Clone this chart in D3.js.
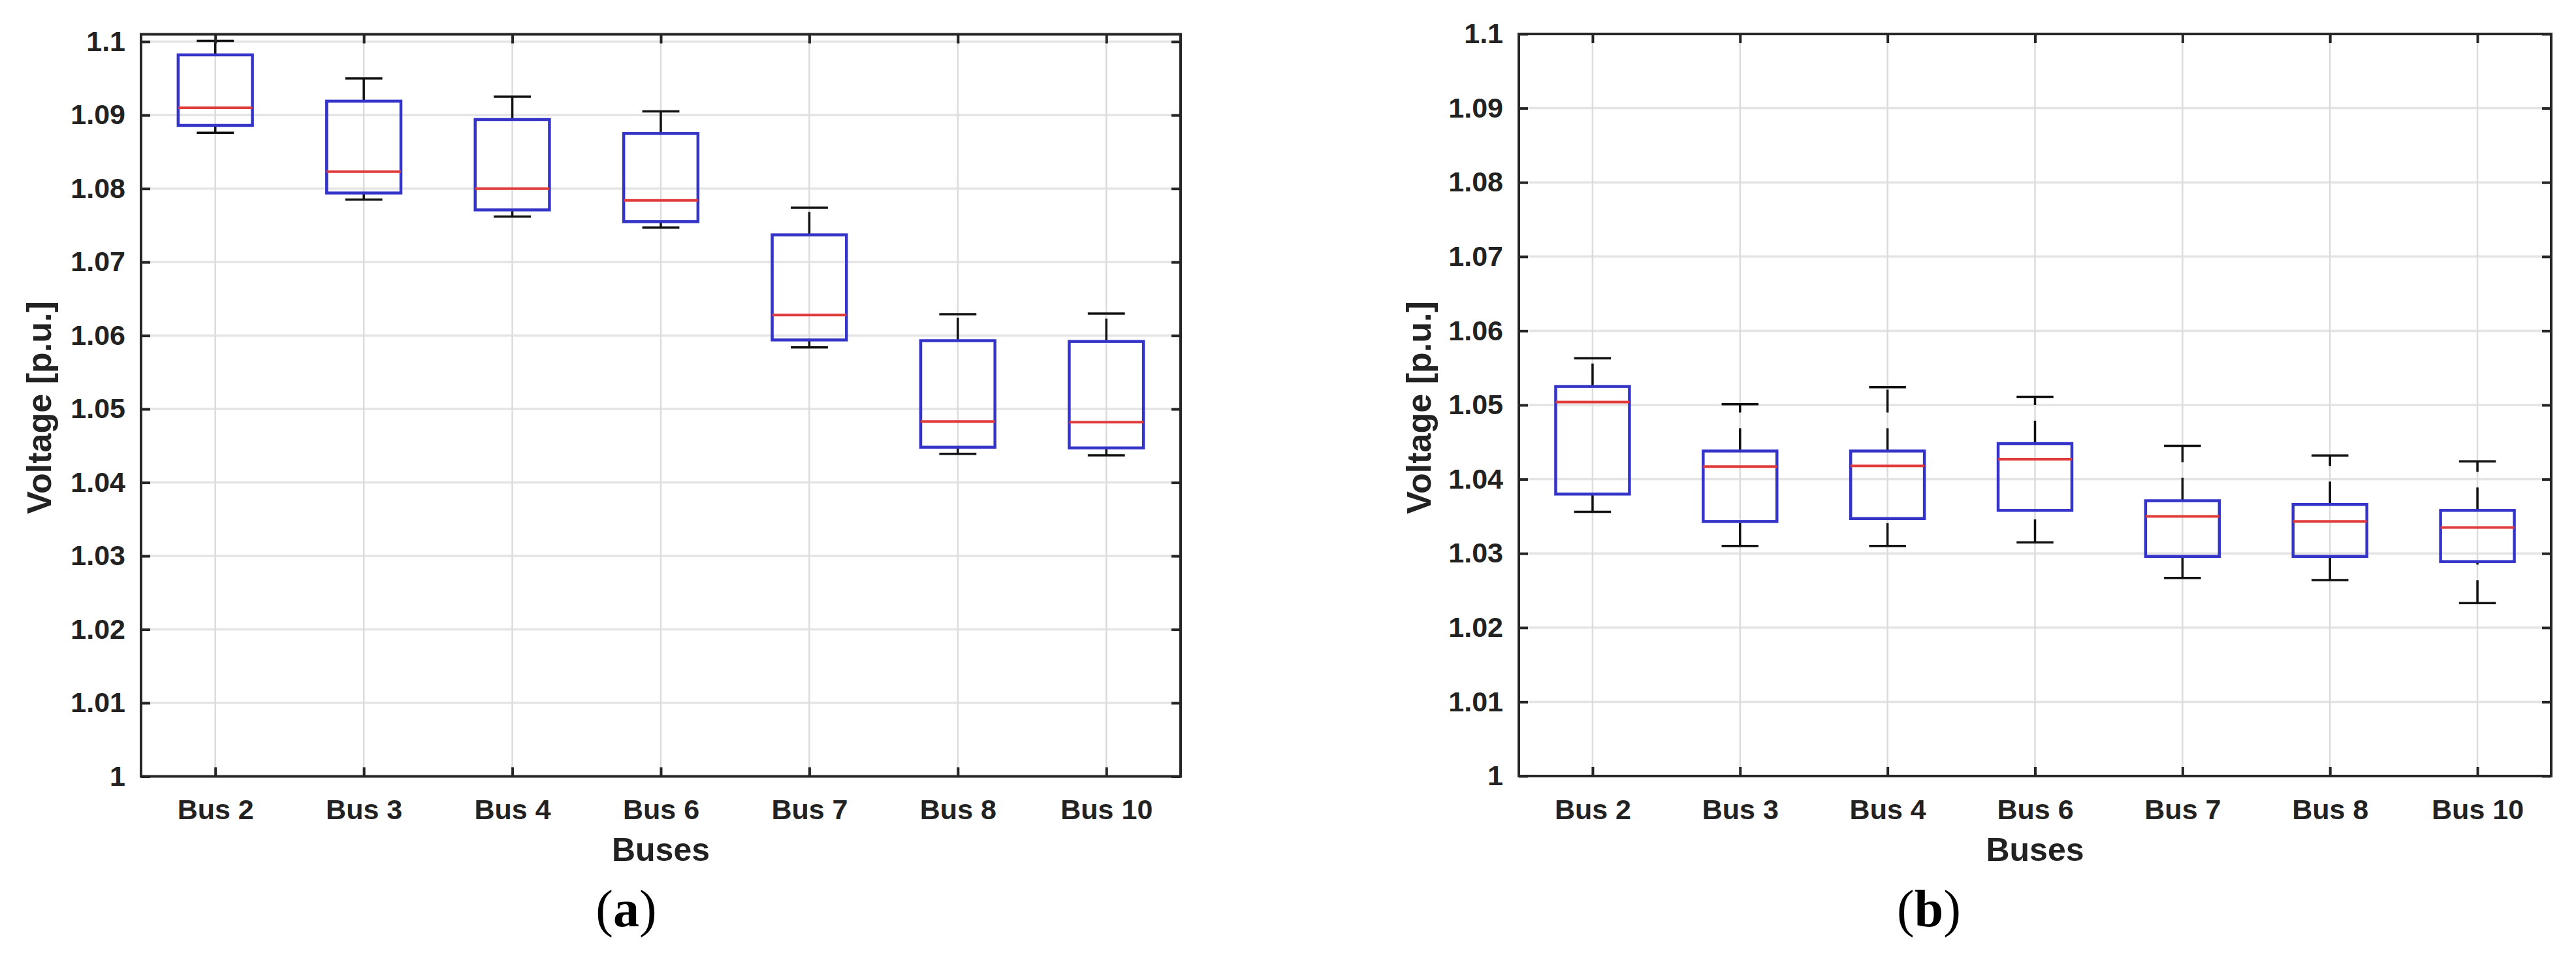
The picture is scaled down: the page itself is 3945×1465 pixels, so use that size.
<!DOCTYPE html>
<html>
<head>
<meta charset="utf-8">
<script src="https://cdn.jsdelivr.net/npm/d3@7"></script>
<style>
  body { margin: 0; background: #fff; }
  text { font-family: "Liberation Sans", Arial, Helvetica, sans-serif; }
</style>
</head>
<body>
<script>
// categories
const buses = ["Bus 2", "Bus 3", "Bus 4", "Bus 6", "Bus 7", "Bus 8", "Bus 10"]

// y ticks
const yTicks = [1, 1.01, 1.02, 1.03, 1.04, 1.05, 1.06, 1.07, 1.08, 1.09, 1.1]
const yTickLabels = ["1", "1.01", "1.02", "1.03", "1.04", "1.05", "1.06", "1.07", "1.08", "1.09", "1.1"]

// panel (a)
const aLower  = [1.0876, 1.0785, 1.0762, 1.0747, 1.0584, 1.0439, 1.0437]
const aQ1     = [1.0886, 1.0794, 1.0771, 1.0755, 1.0594, 1.0448, 1.0447]
const aMedian = [1.0910, 1.0823, 1.0800, 1.0784, 1.0628, 1.0483, 1.0482]
const aQ3     = [1.0982, 1.0919, 1.0894, 1.0875, 1.0737, 1.0593, 1.0592]
const aUpper  = [1.1001, 1.0950, 1.0925, 1.0905, 1.0774, 1.0629, 1.0630]

// panel (b)
const bLower  = [1.0356, 1.0310, 1.0310, 1.0315, 1.0267, 1.0264, 1.0233]
const bQ1     = [1.0380, 1.0343, 1.0347, 1.0358, 1.0296, 1.0296, 1.0289]
const bMedian = [1.0504, 1.0417, 1.0418, 1.0427, 1.0350, 1.0343, 1.0335]
const bQ3     = [1.0525, 1.0438, 1.0438, 1.0448, 1.0371, 1.0366, 1.0358]
const bUpper  = [1.0563, 1.0501, 1.0524, 1.0511, 1.0445, 1.0432, 1.0424]

const svg = d3.select("body").append("svg")
    .attr("width", 3945).attr("height", 1465)

const axis_color = "#262626"

function draw_panel(p) {
    const w = p.right - p.left
    const h = p.bottom - p.top

    const x = d3.scalePoint().domain(buses).range([0, w]).padding(0.5)
    const y = d3.scaleLinear().domain([1, p.ymax]).range([h, 0])
    const step = x.step()

    const g = svg.append("g").attr("transform", `translate(${p.left},${p.top})`)

    // grid
    g.append("g").selectAll("line").data(yTicks).enter().append("line")
        .attr("x1", 0).attr("x2", w)
        .attr("y1", d => y(d)).attr("y2", d => y(d))
        .attr("stroke", "#e4e4e4").attr("stroke-width", 3.5)
    g.append("g").selectAll("line").data(buses).enter().append("line")
        .attr("x1", d => x(d)).attr("x2", d => x(d))
        .attr("y1", 0).attr("y2", h)
        .attr("stroke", "#dcdcdc").attr("stroke-width", 2.5)

    const rows = buses.map((b, i) => ({
        bus: b, lo: p.lower[i], q1: p.q1[i], med: p.median[i], q3: p.q3[i], hi: p.upper[i]
    }))

    const box = g.append("g").selectAll("g").data(rows).enter().append("g")

    // whiskers (dashed, as matlab draws them)
    box.append("line")
        .attr("x1", d => x(d.bus)).attr("x2", d => x(d.bus))
        .attr("y1", d => y(d.q3)).attr("y2", d => y(d.hi))
        .attr("stroke", "#111").attr("stroke-width", 3.5)
        .attr("stroke-dasharray", "35,24")
    box.append("line")
        .attr("x1", d => x(d.bus)).attr("x2", d => x(d.bus))
        .attr("y1", d => y(d.lo)).attr("y2", d => y(d.q1))
        .attr("stroke", "#111").attr("stroke-width", 3.5)
        .attr("stroke-dasharray", "35,24")
    // caps
    box.selectAll("line.cap").data(d => [[d.bus, d.hi], [d.bus, d.lo]]).enter().append("line")
        .attr("class", "cap")
        .attr("x1", d => x(d[0]) - step * 0.125).attr("x2", d => x(d[0]) + step * 0.125)
        .attr("y1", d => y(d[1])).attr("y2", d => y(d[1]))
        .attr("stroke", "#111").attr("stroke-width", 3.5)
    // box
    box.append("rect")
        .attr("x", d => x(d.bus) - step * 0.25)
        .attr("width", step * 0.5)
        .attr("y", d => y(d.q3))
        .attr("height", d => y(d.q1) - y(d.q3))
        .attr("fill", "none")
        .attr("stroke", "#3434c8").attr("stroke-width", 4.5)
    // median
    box.append("line")
        .attr("x1", d => x(d.bus) - step * 0.25).attr("x2", d => x(d.bus) + step * 0.25)
        .attr("y1", d => y(d.med)).attr("y2", d => y(d.med))
        .attr("stroke", "#e03a3a").attr("stroke-width", 4)

    // axes with inward ticks
    const tickFmt = (d) => yTickLabels[yTicks.indexOf(d)]
    const left = g.append("g")
        .call(d3.axisLeft(y).tickValues(yTicks).tickFormat(tickFmt).tickSize(-14).tickPadding(24))
    const right = g.append("g").attr("transform", `translate(${w},0)`)
        .call(d3.axisRight(y).tickValues(yTicks).tickFormat("").tickSize(-14))
    const bottom = g.append("g").attr("transform", `translate(0,${h})`)
        .call(d3.axisBottom(x).tickSize(-14).tickPadding(35))
    const top = g.append("g")
        .call(d3.axisTop(x).tickFormat("").tickSize(-14))

    ;[left, right, bottom, top].forEach(a => {
        a.select(".domain").remove()
        a.selectAll(".tick line").attr("stroke", axis_color).attr("stroke-width", 4)
        a.selectAll(".tick text")
            .attr("font-family", "'Liberation Sans', Arial, sans-serif")
            .attr("font-size", 43).attr("font-weight", "bold").attr("fill", "#222")
    })

    // frame
    g.append("rect").attr("width", w).attr("height", h)
        .attr("fill", "none").attr("stroke", axis_color).attr("stroke-width", 4)

    // axis labels
    g.append("text")
        .attr("x", w / 2).attr("y", 1318 - p.top)
        .attr("text-anchor", "middle")
        .attr("font-size", 50).attr("font-weight", "bold").attr("fill", "#222")
        .text("Buses")
    g.append("text")
        .attr("transform", `translate(${p.ylabelX - p.left},${624 - p.top}) rotate(-90)`)
        .attr("text-anchor", "middle")
        .attr("font-size", 52).attr("font-weight", "bold").attr("fill", "#222")
        .text("Voltage [p.u.]")

    // subfigure tag
    const tag = svg.append("text")
        .attr("x", p.tagX).attr("y", 1418)
        .attr("text-anchor", "middle")
        .attr("font-size", 80)
        .style("font-family", "'Liberation Serif', 'DejaVu Serif', serif")
    tag.append("tspan").text("(")
    tag.append("tspan").attr("font-weight", "bold").text(p.tag)
    tag.append("tspan").text(")")
}

draw_panel({
    left: 216, right: 1808, top: 52.5, bottom: 1188.5, ymax: 1.101,
    lower: aLower, q1: aQ1, median: aMedian, q3: aQ3, upper: aUpper,
    ylabelX: 78, tagX: 959, tag: "a"
})

draw_panel({
    left: 2326, right: 3907, top: 52, bottom: 1188, ymax: 1.1,
    lower: bLower, q1: bQ1, median: bMedian, q3: bQ3, upper: bUpper,
    ylabelX: 2191, tagX: 2954, tag: "b"
})
</script>
</body>
</html>
